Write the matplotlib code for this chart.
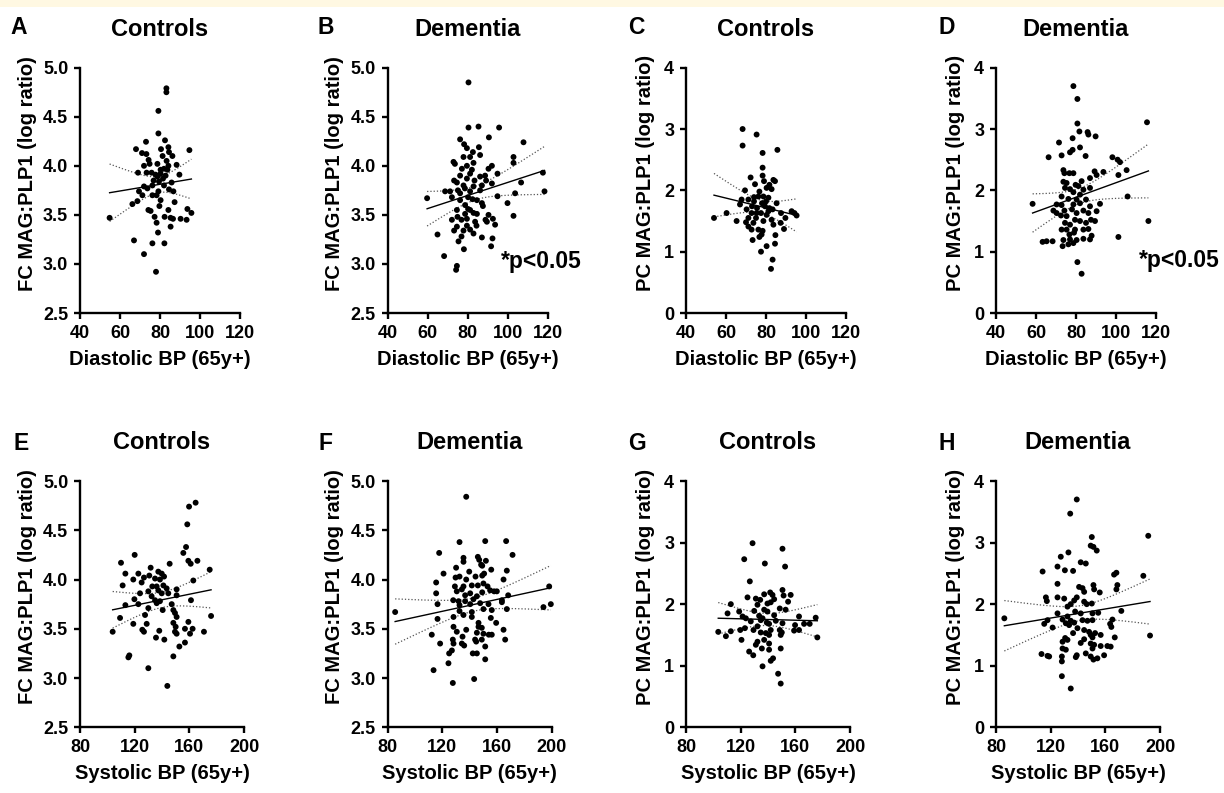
import numpy as np
import matplotlib
matplotlib.use("Agg")
import matplotlib.pyplot as plt
from matplotlib.patches import Rectangle
from matplotlib.ticker import FormatStrFormatter

plt.rcParams['font.family'] = ['Liberation Sans', 'DejaVu Sans']
plt.rcParams['font.weight'] = 'bold'

# ---------------- data ----------------
# Panel A: Controls, Diastolic BP vs FC MAG:PLP1
A_pts = [(83.2,4.79),(83.2,4.75),(79.2,4.56),(79.2,4.33),(73,4.245),(82.5,4.26),(68,4.17),(94.7,4.16),
         (71,4.13),(73.2,4.12),(80.5,4.17),(84.2,4.19),(84.5,4.14),(86.2,4.10),(81.3,4.10),(74.3,4.06),
         (74.8,4.02),(78.7,4.02),(83.3,4.05),(84.2,4.0),(88.3,4.01),(72,4.0),(69,3.93),(73.3,3.93),
         (75.8,3.93),(77.8,3.91),(80.3,3.92),(82.8,3.90),(89.7,3.91),(81.5,3.87),(76.8,3.85),(79.5,3.84),
         (85.8,3.83),(72,3.79),(69.5,3.74),(79.2,3.74),(84.5,3.76),(86.7,3.74),(71.2,3.70),(76.2,3.70),
         (78.3,3.70),(66.2,3.61),(68.7,3.64),(80.3,3.65),(87.3,3.63),(74.2,3.55),(75.3,3.54),(79.7,3.59),
         (84.2,3.55),(93.7,3.56),(95.7,3.52),(77.3,3.48),(82.3,3.48),(85.3,3.47),(86.5,3.46),(90.3,3.46),
         (93.3,3.45),(54.8,3.47),(78.3,3.42),(85.3,3.38),(79,3.32),(67,3.24),(76.2,3.21),(82.2,3.21),
         (72,3.10),(78,2.92),(80.3,3.96),(82,3.97),(83.7,3.96),(78.7,3.89),(76.2,3.80),(82,3.80),(73.7,3.77)]

# Panel B: Dementia, Diastolic BP vs FC MAG:PLP1
B_pts = [(80.5,4.85),(80.5,4.39),(85.5,4.40),(95.8,4.39),(90.7,4.29),(108,4.24),(76.3,4.27),(78.3,4.22),
         (79.7,4.18),(85.7,4.19),(82.7,4.14),(86.3,4.11),(81.3,4.09),(73,4.04),(73.7,4.02),(103,4.09),
         (103,4.03),(83,4.03),(79.7,4.0),(92.2,4.0),(90.5,3.97),(117.7,3.93),(95,3.92),(76.3,3.90),
         (81.3,3.92),(86.3,3.89),(88.8,3.90),(79.7,3.87),(73.3,3.85),(83.5,3.85),(89.3,3.85),(106.8,3.83),
         (92.2,3.82),(78,3.80),(83,3.79),(87.2,3.80),(75.2,3.75),(71.3,3.74),(68.8,3.74),(81.3,3.74),
         (86.3,3.75),(118.5,3.74),(103.8,3.72),(76.3,3.72),(95,3.69),(72.2,3.68),(59.8,3.67),(76.3,3.65),
         (82.5,3.66),(87.2,3.62),(87.7,3.59),(100,3.62),(78.8,3.60),(74.7,3.55),(81.3,3.55),(83,3.52),
         (78.8,3.51),(84.7,3.51),(90.5,3.50),(103,3.49),(72.2,3.45),(77,3.45),(89,3.45),(89.7,3.43),
         (92.7,3.46),(93.8,3.40),(83.8,3.43),(79.7,3.39),(81.3,3.35),(78,3.34),(73.3,3.34),(74.7,3.38),
         (65,3.30),(87.2,3.27),(92.5,3.26),(77,3.28),(75.5,3.23),(91.8,3.18),(78.2,3.15),(68.3,3.08),
         (74.7,2.98),(74.3,2.94),(80.3,3.68),(78.7,3.77),(84.7,3.65),(74.7,3.83),(82.2,3.96),(77.2,3.97),
         (79.7,3.46),(84.5,3.39),(75,3.48),(83,3.31),(78,4.09),(80.3,3.56)]

# Panel C: Controls, Diastolic BP vs PC MAG:PLP1
C_pts = [(68.3,3.0),(75.3,2.91),(68.3,2.73),(78.3,2.61),(85.7,2.66),(78.3,2.37),(72.3,2.21),(78.3,2.24),
         (83.7,2.17),(84.5,2.15),(74.5,2.10),(79,2.15),(81.7,2.09),(69.5,2.0),(80.3,2.04),(82.8,2.02),
         (54,1.55),(60.3,1.63),(65.3,1.50),(67.8,1.85),(67,1.77),(71.2,1.85),(74,1.89),(76.2,1.90),
         (78.7,1.90),(81.2,1.88),(78,1.79),(80,1.82),(85.3,1.79),(73,1.74),(75.5,1.71),(81.7,1.71),
         (83.3,1.69),(70.3,1.69),(72.8,1.63),(77.5,1.63),(80.3,1.60),(87.5,1.63),(89.7,1.55),(92.8,1.66),
         (94.2,1.63),(95.3,1.59),(71.2,1.55),(75,1.55),(70,1.48),(78.7,1.50),(82.8,1.52),(83.7,1.44),
         (87.3,1.47),(71.2,1.41),(72.8,1.36),(89,1.37),(78.3,1.34),(84.7,1.27),(76.7,1.24),(77.8,1.28),
         (73.3,1.19),(80.3,1.09),(84.5,1.13),(77.5,1.0),(83.3,0.87),(82.5,0.72),(74,1.82),(76.7,1.98),
         (75.3,1.63),(79.5,1.74),(81.2,1.66),(73.7,1.47),(76.2,1.36)]

# Panel D: Dementia, Diastolic BP vs PC MAG:PLP1
D_pts = [(78.7,3.70),(80.7,3.49),(80.7,3.09),(81.7,2.96),(85.8,2.95),(86.2,2.91),(89.8,2.88),(78.3,2.85),
         (115.5,3.11),(71.5,2.78),(82,2.70),(78.3,2.66),(77,2.62),(66.3,2.54),(72.8,2.57),(84.8,2.56),
         (98.2,2.54),(100.8,2.50),(102,2.46),(73.7,2.33),(74.2,2.28),(76.7,2.28),(78.7,2.28),(89.3,2.31),
         (93.7,2.30),(90.3,2.25),(105.3,2.33),(101.2,2.25),(73.7,2.14),(75.3,2.12),(87,2.20),(82.8,2.15),
         (79.8,2.09),(81.2,2.07),(74.5,2.04),(77,2.02),(83.7,2.01),(87,2.04),(78.7,1.97),(82,1.93),
         (105.8,1.90),(72.8,1.90),(76.2,1.86),(80.3,1.85),(85,1.85),(58.3,1.78),(70.3,1.77),(72.8,1.76),
         (78.7,1.77),(82,1.79),(87,1.74),(92,1.78),(68.7,1.67),(70.3,1.63),(74.2,1.67),(78,1.69),
         (80.3,1.63),(83.7,1.67),(86.2,1.63),(90.3,1.66),(116.2,1.50),(72.5,1.59),(75.3,1.58),(79.5,1.52),
         (82,1.50),(87.5,1.52),(89.5,1.50),(74.5,1.47),(77,1.44),(85,1.47),(72.8,1.36),(75.3,1.36),
         (79.5,1.36),(83.7,1.36),(86.2,1.37),(76.7,1.28),(79,1.31),(87.8,1.26),(101.2,1.24),(63.3,1.16),
         (65.3,1.17),(68.3,1.17),(73.7,1.19),(77,1.20),(80.3,1.19),(83.7,1.21),(87,1.20),(73.3,1.09),
         (76.2,1.12),(78.7,1.14),(80.7,0.83),(82.8,0.64)]

# Panel E: Controls, Systolic BP vs FC MAG:PLP1
E_pts = [(164.6,4.78),(159.8,4.74),(158.5,4.56),(157.6,4.33),(155.6,4.27),(120,4.25),(159.3,4.19),(161,4.16),
         (165.9,4.19),(145.6,4.16),(110,4.17),(174.9,4.10),(131.7,4.12),(113.2,4.06),(122.7,4.06),(126.8,4.02),
         (130.7,4.04),(137.3,4.08),(139.8,4.06),(141.5,4.03),(119,4.0),(134.9,4.01),(138.5,4.0),(162.9,3.99),
         (111.2,3.94),(125.1,3.97),(132.9,3.93),(136.1,3.93),(143.4,3.91),(141,3.94),(150.7,3.90),(123.9,3.86),
         (130,3.88),(137.3,3.89),(139.8,3.86),(144.6,3.86),(150.7,3.84),(119.8,3.80),(161.2,3.79),(132.4,3.83),
         (134.9,3.79),(138.5,3.78),(136.1,3.76),(147.1,3.75),(113.2,3.74),(122.7,3.75),(140.5,3.69),(148.3,3.69),
         (149.5,3.66),(130,3.71),(109.3,3.61),(127.6,3.64),(150.7,3.62),(119,3.55),(128.8,3.55),(148.3,3.56),
         (150,3.52),(159.3,3.57),(175.9,3.63),(103.9,3.47),(125.6,3.49),(126.8,3.47),(138,3.48),(149.5,3.47),
         (150.7,3.45),(156.8,3.50),(162.4,3.50),(160.5,3.45),(170.7,3.47),(135.6,3.41),(141.7,3.39),(152.7,3.32),
         (156.8,3.36),(116.1,3.23),(115.4,3.21),(148.3,3.22),(130,3.10),(143.9,2.92)]

# Panel F: Dementia, Systolic BP vs FC MAG:PLP1
F_pts = [(137.6,4.84),(132.7,4.38),(151.5,4.39),(166.8,4.39),(117.8,4.27),(171.5,4.25),(135.6,4.22),(135.6,4.18),
         (146.1,4.23),(147.1,4.20),(152,4.19),(148.5,4.15),(121,4.06),(130.2,4.12),(139.8,4.08),(149.3,4.14),
         (150.7,4.06),(149.3,4.04),(155.9,4.10),(167.3,4.09),(132.7,4.03),(129.8,4.02),(137.6,4.0),(144.4,4.03),
         (164.9,4.0),(115.6,3.97),(129.3,3.93),(135.6,3.93),(141.7,3.94),(146.1,3.94),(153.2,3.93),(198.3,3.93),
         (115.6,3.86),(130.7,3.88),(134.4,3.90),(140.5,3.86),(149.3,3.87),(155.1,3.89),(158,3.88),(160,3.88),
         (168.3,3.84),(145.4,3.83),(128.1,3.79),(136.8,3.78),(163.7,3.79),(163.7,3.77),(116.6,3.75),(132,3.78),
         (132.7,3.74),(140.5,3.75),(147.8,3.76),(153.9,3.75),(85.6,3.67),(194.1,3.72),(199.5,3.75),(132.7,3.68),
         (141.7,3.67),(150.2,3.70),(156.3,3.69),(167.3,3.70),(128.3,3.62),(135.6,3.64),(141.7,3.62),(155.6,3.61),
         (116.6,3.60),(146.6,3.56),(159.5,3.56),(128.3,3.52),(137.6,3.49),(146.6,3.52),(149,3.51),(164.9,3.49),
         (150.2,3.45),(154.1,3.44),(156.3,3.44),(112.4,3.44),(134.9,3.42),(118.5,3.35),(127.8,3.39),(128.3,3.35),
         (134.4,3.35),(136.1,3.33),(144.1,3.39),(144.9,3.37),(149,3.39),(166.1,3.39),(151.5,3.32),(127.1,3.28),
         (125.1,3.25),(142.4,3.25),(145.4,3.25),(124.6,3.15),(151.5,3.19),(113.7,3.08),(143.4,2.99),(127.8,2.95),
         (136.8,3.84),(142.9,3.80),(150.2,3.96),(130.7,3.47),(145.4,3.46)]

# Panel G: Controls, Systolic BP vs PC MAG:PLP1
G_pts = [(128.7,2.99),(150.6,2.90),(122.6,2.73),(137.7,2.66),(152.5,2.61),(126.7,2.37),(150.6,2.23),(141.6,2.19),
         (143.3,2.15),(137.2,2.16),(151.4,2.14),(156.6,2.15),(125,2.11),(131.1,2.09),(134.3,2.07),(144.5,2.08),
         (112.8,2.0),(139.6,2.01),(142,2.03),(154.7,2.04),(132.3,1.99),(148.6,1.93),(110.4,1.85),(118.9,1.88),
         (129.9,1.89),(137.2,1.91),(139.6,1.88),(152.9,1.91),(121.4,1.80),(123.8,1.77),(133.5,1.81),(136,1.77),
         (144.5,1.82),(162.7,1.80),(174.9,1.78),(127.4,1.72),(139.1,1.70),(140.8,1.68),(150.6,1.69),(159.8,1.66),
         (166.4,1.68),(170.5,1.68),(123.1,1.61),(129.4,1.58),(134.7,1.54),(138.4,1.53),(148.6,1.58),(150.1,1.54),
         (159.1,1.57),(162.7,1.58),(103.6,1.55),(112.8,1.56),(119.7,1.58),(109.2,1.48),(149.3,1.50),(176.1,1.46),
         (140.8,1.50),(137.2,1.42),(120.6,1.42),(132.3,1.39),(131.1,1.34),(140.8,1.36),(135.5,1.28),(149.3,1.28),
         (140.8,1.26),(126.2,1.23),(129.2,1.17),(143.7,1.12),(142,1.08),(136,0.99),(147.4,0.87),(149.3,0.71),
         (134.7,1.74),(132.3,1.64),(142,1.58),(145.7,1.73)]

# Panel H: Dementia, Systolic BP vs PC MAG:PLP1
H_pts = [(139.1,3.70),(134.3,3.47),(150.1,3.09),(191.4,3.11),(149.3,2.95),(151.3,2.93),(153.7,2.87),(133,2.84),
         (127.4,2.77),(142,2.68),(145.7,2.66),(125,2.61),(130.4,2.55),(136.4,2.54),(114.1,2.53),(168.1,2.51),
         (166.4,2.48),(187.8,2.46),(125,2.33),(151.3,2.31),(151.8,2.24),(168.8,2.31),(168.1,2.24),(140.8,2.28),
         (143.3,2.26),(144.5,2.20),(155.9,2.19),(116.5,2.11),(117.2,2.05),(125,2.11),(129.9,2.09),(137.2,2.06),
         (139.1,2.11),(144.5,2.04),(146.4,2.0),(150.1,2.01),(134.7,2.0),(132.3,1.96),(171.7,1.89),(125,1.85),
         (137.9,1.88),(142,1.85),(154.8,1.86),(150.6,1.85),(86.1,1.77),(117.7,1.74),(128.7,1.75),(132.3,1.80),
         (134.7,1.73),(137.2,1.70),(143.3,1.74),(146.9,1.73),(150.6,1.74),(165.2,1.75),(115.3,1.68),(131.1,1.69),
         (133.5,1.66),(163.5,1.68),(164.4,1.63),(121.4,1.62),(139.6,1.61),(144.5,1.58),(148.1,1.55),(152.5,1.53),
         (156.6,1.50),(136.4,1.53),(149.3,1.50),(150.6,1.46),(166.9,1.46),(192.7,1.49),(130.6,1.45),(132.3,1.42),
         (128.7,1.39),(144.5,1.43),(142,1.37),(149.3,1.36),(151.8,1.34),(156.6,1.32),(161.5,1.32),(163.9,1.31),
         (128.7,1.28),(131.1,1.26),(150.6,1.28),(113.3,1.19),(117.7,1.16),(118.9,1.15),(128.2,1.15),(138.4,1.14),
         (139.1,1.17),(145.7,1.20),(149.3,1.15),(151.3,1.10),(154.2,1.12),(159.1,1.17),(128.2,1.07),(128.2,0.83),
         (134.7,0.63)]

panel_letters = ["A", "B", "C", "D", "E", "F", "G", "H"]
panel_titles = ["Controls", "Dementia", "Controls", "Dementia",
                "Controls", "Dementia", "Controls", "Dementia"]
y_labels = ["FC MAG:PLP1 (log ratio)", "FC MAG:PLP1 (log ratio)",
            "PC MAG:PLP1 (log ratio)", "PC MAG:PLP1 (log ratio)"] * 2
x_labels = ["Diastolic BP (65y+)"] * 4 + ["Systolic BP (65y+)"] * 4
dbp_ticks = [40, 60, 80, 100, 120]
sbp_ticks = [80, 120, 160, 200]
fc_ticks = [2.5, 3.0, 3.5, 4.0, 4.5, 5.0]
pc_ticks = [0, 1, 2, 3, 4]
sig_note = "*p<0.05"

all_pts = [A_pts, B_pts, C_pts, D_pts, E_pts, F_pts, G_pts, H_pts]

# ---------------- layout ----------------
W, H = 1224, 793
fig = plt.figure(figsize=(W / 100, H / 100), dpi=100)
fig.patches.append(Rectangle((0, 1 - 7 / H), 1, 7 / H, transform=fig.transFigure,
                             facecolor="#FFF8E2", edgecolor="none", zorder=0))

lefts = [80, 387.5, 686, 996]
row_top = [67.7, 481]
row_bot = [313, 727.3]
widths = [160, 164]
letter_x = [10, 317, 628, 938, 14, 319, 628, 938]
letter_base = [33.5, 33.5, 33.5, 33.5, 449.5, 449.5, 449.5, 449.5]

def fit_band(x, y):
    n = len(x)
    b, a = np.polyfit(x, y, 1)
    xs = np.linspace(x.min(), x.max(), 200)
    yh = a + b * xs
    res = y - (a + b * x)
    s = np.sqrt(np.sum(res ** 2) / (n - 2))
    xm = x.mean()
    sxx = np.sum((x - xm) ** 2)
    se = s * np.sqrt(1.0 / n + (xs - xm) ** 2 / sxx)
    t = 1.98
    return xs, yh, yh - t * se, yh + t * se

for i, pts in enumerate(all_pts):
    r, c = divmod(i, 4)
    l = lefts[c]
    w = widths[r]
    ax = fig.add_axes([l / W, 1 - row_bot[r] / H, w / W, (row_bot[r] - row_top[r]) / H])
    arr = np.array(pts, dtype=float)
    x, y = arr[:, 0], arr[:, 1]
    xs, yh, lo, hi = fit_band(x, y)
    ax.scatter(x, y, s=18, color="black", edgecolors="none", zorder=3, clip_on=False)
    ax.plot(xs, yh, color="black", lw=1.0, zorder=4)
    ax.plot(xs, lo, color="#555555", lw=0.9, ls=(0, (1, 1.6)), zorder=2)
    ax.plot(xs, hi, color="#555555", lw=0.9, ls=(0, (1, 1.6)), zorder=2)

    if r == 0:
        ax.set_xlim(40, 120)
        ax.set_xticks(dbp_ticks)
    else:
        ax.set_xlim(80, 200)
        ax.set_xticks(sbp_ticks)
    if c < 2:
        ax.set_ylim(2.5, 5.0)
        ax.set_yticks(fc_ticks)
        ax.yaxis.set_major_formatter(FormatStrFormatter("%.1f"))
        lab_off = 43
    else:
        ax.set_ylim(0, 4)
        ax.set_yticks(pc_ticks)
        lab_off = 31

    for side in ("top", "right"):
        ax.spines[side].set_visible(False)
    for side in ("left", "bottom"):
        ax.spines[side].set_linewidth(1.7)
        ax.spines[side].set_color("black")
    ax.tick_params(axis="both", which="major", length=4, width=1.7, color="black",
                   labelsize=13, pad=4.5)
    for lab in ax.get_xticklabels() + ax.get_yticklabels():
        lab.set_fontweight("bold")

    ax.set_title(panel_titles[i], fontsize=17, fontweight="bold", pad=23)
    ax.set_xlabel(x_labels[i], fontsize=14.5, fontweight="bold", labelpad=6)
    ax.set_ylabel(y_labels[i], fontsize=14.5, fontweight="bold")
    ax.yaxis.set_label_coords(-lab_off / w, 0.57)

    fig.text(letter_x[i] / W, 1 - letter_base[i] / H, panel_letters[i], fontsize=16.5,
             fontweight="bold", ha="left", va="baseline")

# significance notes (panels B and D)
fig.text(501 / W, 1 - 268 / H, sig_note, fontsize=16.5, fontweight="bold", ha="left", va="baseline")
fig.text(1139 / W, 1 - 267 / H, sig_note, fontsize=16.5, fontweight="bold", ha="left", va="baseline")

fig.savefig("out.png", dpi=100, facecolor="white")
